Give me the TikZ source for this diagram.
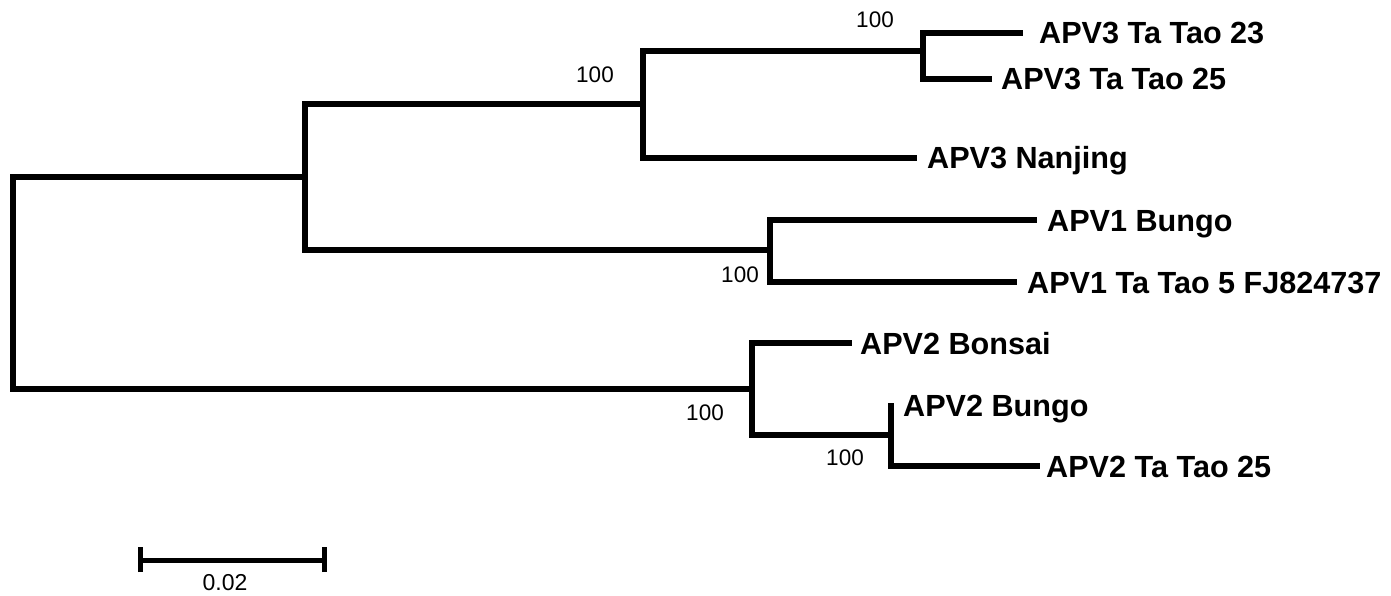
\documentclass[tikz,border=0pt]{standalone}
\usepackage{fontspec}
\setmainfont{Liberation Sans}
\begin{document}
\begin{tikzpicture}[x=1pt,y=-1pt,
  branch/.style={line width=5.5pt,line join=miter},
  taxon/.style={anchor=base west,inner sep=0pt,font=\bfseries\fontsize{30.6}{36}\selectfont},
  boot/.style={anchor=center,inner sep=0pt,font=\fontsize{22.5}{26}\selectfont},
  scalelbl/.style={anchor=center,inner sep=0pt,font=\fontsize{23}{26}\selectfont}]
\useasboundingbox (0,0) rectangle (1391,596);
% internal nodes
\coordinate (R) at (13,283);
\coordinate (A) at (305,177);
\coordinate (B) at (643,104);
\coordinate (C) at (923,51);
\coordinate (D) at (770,250);
\coordinate (E) at (752,389);
\coordinate (F) at (891,435);
% tips
\coordinate (t1) at (1023,33);
\coordinate (t2) at (992,79);
\coordinate (t3) at (917,158);
\coordinate (t4) at (1037,220);
\coordinate (t5) at (1017,282);
\coordinate (t6) at (852,343);
\coordinate (t7) at (891,403);
\coordinate (t8) at (1040,466);
% branches
\draw[branch] (R) |- (A);
\draw[branch] (R) |- (E);
\draw[branch] (A) |- (B);
\draw[branch] (A) |- (D);
\draw[branch] (B) |- (C);
\draw[branch] (B) |- (t3);
\draw[branch] (C) |- (t1);
\draw[branch] (C) |- (t2);
\draw[branch] (D) |- (t4);
\draw[branch] (D) |- (t5);
\draw[branch] (E) |- (t6);
\draw[branch] (E) |- (F);
\draw[branch] (F) -- (t7);
\draw[branch] (F) |- (t8);
% taxa
\node[taxon] (l1) at (1039,44) {APV3 Ta Tao 23};
\node[taxon] (l2) at (1001,90) {APV3 Ta Tao 25};
\node[taxon] (l3) at (927,169) {APV3 Nanjing};
\node[taxon] (l4) at (1047,231) {APV1 Bungo};
\node[taxon] (l5) at (1027,293) {APV1 Ta Tao 5 FJ824737};
\node[taxon] (l6) at (860,354) {APV2 Bonsai};
\node[taxon] (l7) at (903,416) {APV2 Bungo};
\node[taxon] (l8) at (1046,477) {APV2 Ta Tao 25};
% bootstrap values
\node[boot] (bC) at (875,20) {100};
\node[boot] (bB) at (595,75) {100};
\node[boot] (bD) at (740,275) {100};
\node[boot] (bE) at (705,413) {100};
\node[boot] (bF) at (845,458) {100};
% scale bar
\coordinate (s1) at (140,560);
\coordinate (s2) at (324,560);
\draw[line width=5pt] (s1) -- (s2);
\draw[line width=5pt] ([yshift=-12pt]s1) -- ([yshift=13pt]s1);
\draw[line width=5pt] ([yshift=-12pt]s2) -- ([yshift=13pt]s2);
\node[scalelbl] (sl) at (225,583) {0.02};
\end{tikzpicture}
\end{document}
